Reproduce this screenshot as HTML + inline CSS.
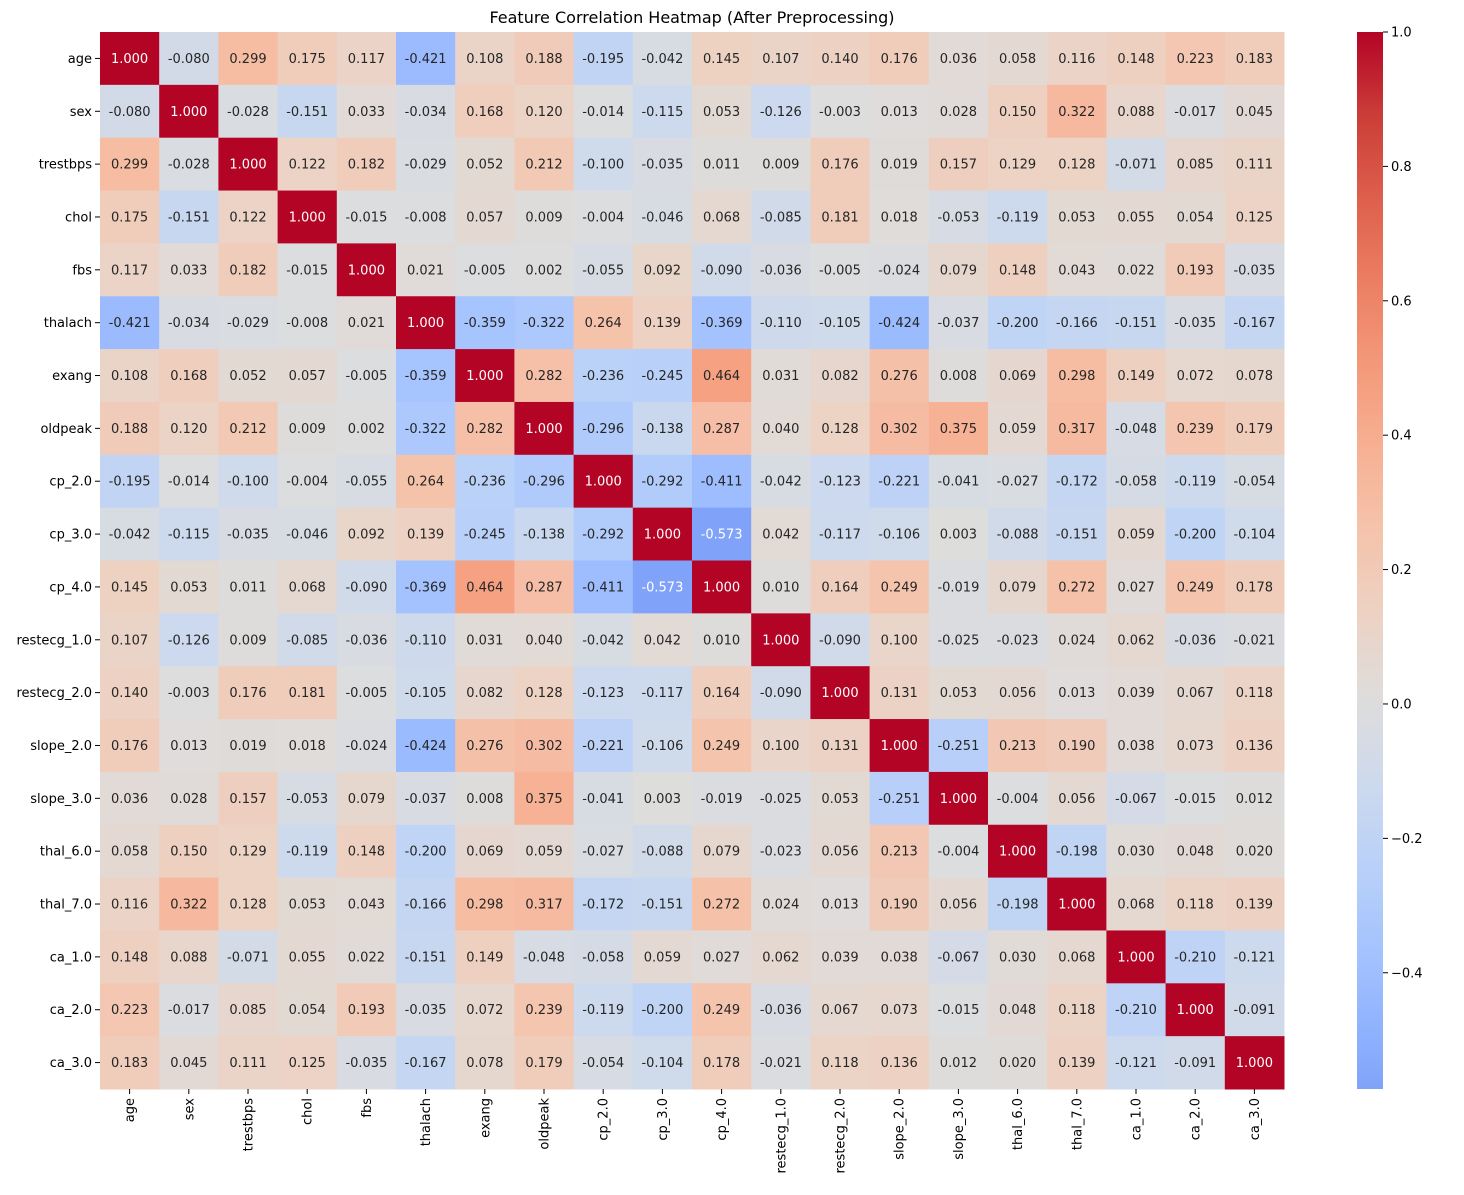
<!DOCTYPE html>
<html><head><meta charset="utf-8"><style>
body{margin:0;background:#fff;}
svg text{font-family:"DejaVu Sans","Liberation Sans",sans-serif;}
</style></head><body>
<svg id="chart" width="1464" height="1190" xmlns="http://www.w3.org/2000/svg">
<text x="692" y="23" text-anchor="middle" font-size="16">Feature Correlation Heatmap (After Preprocessing)</text>
<g id="cells"></g><g id="labels"></g><g id="cbar"></g>
</svg>
<script>
const features = ["age","sex","trestbps","chol","fbs","thalach","exang","oldpeak","cp_2.0","cp_3.0","cp_4.0","restecg_1.0","restecg_2.0","slope_2.0","slope_3.0","thal_6.0","thal_7.0","ca_1.0","ca_2.0","ca_3.0"];
const corr = [
[1.000,-0.080,0.299,0.175,0.117,-0.421,0.108,0.188,-0.195,-0.042,0.145,0.107,0.140,0.176,0.036,0.058,0.116,0.148,0.223,0.183],
[-0.080,1.000,-0.028,-0.151,0.033,-0.034,0.168,0.120,-0.014,-0.115,0.053,-0.126,-0.003,0.013,0.028,0.150,0.322,0.088,-0.017,0.045],
[0.299,-0.028,1.000,0.122,0.182,-0.029,0.052,0.212,-0.100,-0.035,0.011,0.009,0.176,0.019,0.157,0.129,0.128,-0.071,0.085,0.111],
[0.175,-0.151,0.122,1.000,-0.015,-0.008,0.057,0.009,-0.004,-0.046,0.068,-0.085,0.181,0.018,-0.053,-0.119,0.053,0.055,0.054,0.125],
[0.117,0.033,0.182,-0.015,1.000,0.021,-0.005,0.002,-0.055,0.092,-0.090,-0.036,-0.005,-0.024,0.079,0.148,0.043,0.022,0.193,-0.035],
[-0.421,-0.034,-0.029,-0.008,0.021,1.000,-0.359,-0.322,0.264,0.139,-0.369,-0.110,-0.105,-0.424,-0.037,-0.200,-0.166,-0.151,-0.035,-0.167],
[0.108,0.168,0.052,0.057,-0.005,-0.359,1.000,0.282,-0.236,-0.245,0.464,0.031,0.082,0.276,0.008,0.069,0.298,0.149,0.072,0.078],
[0.188,0.120,0.212,0.009,0.002,-0.322,0.282,1.000,-0.296,-0.138,0.287,0.040,0.128,0.302,0.375,0.059,0.317,-0.048,0.239,0.179],
[-0.195,-0.014,-0.100,-0.004,-0.055,0.264,-0.236,-0.296,1.000,-0.292,-0.411,-0.042,-0.123,-0.221,-0.041,-0.027,-0.172,-0.058,-0.119,-0.054],
[-0.042,-0.115,-0.035,-0.046,0.092,0.139,-0.245,-0.138,-0.292,1.000,-0.573,0.042,-0.117,-0.106,0.003,-0.088,-0.151,0.059,-0.200,-0.104],
[0.145,0.053,0.011,0.068,-0.090,-0.369,0.464,0.287,-0.411,-0.573,1.000,0.010,0.164,0.249,-0.019,0.079,0.272,0.027,0.249,0.178],
[0.107,-0.126,0.009,-0.085,-0.036,-0.110,0.031,0.040,-0.042,0.042,0.010,1.000,-0.090,0.100,-0.025,-0.023,0.024,0.062,-0.036,-0.021],
[0.140,-0.003,0.176,0.181,-0.005,-0.105,0.082,0.128,-0.123,-0.117,0.164,-0.090,1.000,0.131,0.053,0.056,0.013,0.039,0.067,0.118],
[0.176,0.013,0.019,0.018,-0.024,-0.424,0.276,0.302,-0.221,-0.106,0.249,0.100,0.131,1.000,-0.251,0.213,0.190,0.038,0.073,0.136],
[0.036,0.028,0.157,-0.053,0.079,-0.037,0.008,0.375,-0.041,0.003,-0.019,-0.025,0.053,-0.251,1.000,-0.004,0.056,-0.067,-0.015,0.012],
[0.058,0.150,0.129,-0.119,0.148,-0.200,0.069,0.059,-0.027,-0.088,0.079,-0.023,0.056,0.213,-0.004,1.000,-0.198,0.030,0.048,0.020],
[0.116,0.322,0.128,0.053,0.043,-0.166,0.298,0.317,-0.172,-0.151,0.272,0.024,0.013,0.190,0.056,-0.198,1.000,0.068,0.118,0.139],
[0.148,0.088,-0.071,0.055,0.022,-0.151,0.149,-0.048,-0.058,0.059,0.027,0.062,0.039,0.038,-0.067,0.030,0.068,1.000,-0.210,-0.121],
[0.223,-0.017,0.085,0.054,0.193,-0.035,0.072,0.239,-0.119,-0.200,0.249,-0.036,0.067,0.073,-0.015,0.048,0.118,-0.210,1.000,-0.091],
[0.183,0.045,0.111,0.125,-0.035,-0.167,0.078,0.179,-0.054,-0.104,0.178,-0.021,0.118,0.136,0.012,0.020,0.139,-0.121,-0.091,1.000]
];
const cbarTicks = [1.0,0.8,0.6,0.4,0.2,0.0,-0.2,-0.4];

const NS="http://www.w3.org/2000/svg";
const L=100,R=1284,T=32,B=1089;
const n=features.length, cw=(R-L)/n, ch=(B-T)/n;
let vmin=Infinity,vmax=-Infinity;
corr.forEach(r=>r.forEach(v=>{vmin=Math.min(vmin,v);vmax=Math.max(vmax,v);}));
const vr=Math.max(vmax,-vmin);
const stops=[[59,76,192],[77,104,215],[98,130,234],[119,154,246],[141,176,254],[163,194,254],[184,208,249],[204,217,238],[221,221,221],[236,211,197],[245,196,173],[247,177,148],[244,154,123],[236,127,99],[222,96,77],[203,62,56],[180,4,38]];
function cmap(t){t=Math.max(0,Math.min(1,t));const m=stops.length-1,p=t*m,i=Math.min(m-1,Math.floor(p)),f=p-i;
 return stops[i].map((c,k)=>Math.round(c+(stops[i+1][k]-c)*f));}
function colorOf(v){return cmap(0.5+v/(2*vr));}
function lum(c){const a=c.map(x=>{x/=255;return x<=0.03928?x/12.92:Math.pow((x+0.055)/1.055,2.4);});return 0.2126*a[0]+0.7152*a[1]+0.0722*a[2];}
function mk(tag,attrs,parent,txt){const e=document.createElementNS(NS,tag);for(const k in attrs)e.setAttribute(k,attrs[k]);if(txt!==undefined)e.textContent=txt;parent.appendChild(e);return e;}
const xs=i=>L+i*cw, ys=j=>T+j*ch;
const gc=document.getElementById('cells'), gl=document.getElementById('labels'), gb=document.getElementById('cbar');
for(let j=0;j<n;j++)for(let i=0;i<n;i++){
 const v=corr[j][i], c=colorOf(v);
 const r=mk('rect',{x:xs(i),y:ys(j),width:cw+0.5,height:ch+0.5,fill:`rgb(${c})`},gc);
 
 
 const t=mk('text',{x:xs(i)+cw/2,y:ys(j)+ch/2+4.5,'text-anchor':'middle','font-size':13,fill:lum(c)<0.408?'#fff':'#262626'},gc,v.toFixed(3));
 
 
}
features.forEach((f,j)=>{
 const y=ys(j)+ch/2;
 mk('line',{x1:L-5,x2:L,y1:y,y2:y,stroke:'#000'},gl);
 const t=mk('text',{x:L-8,y:y+4.5,'text-anchor':'end','font-size':13},gl,f);
 
 
 const x=xs(j)+cw/2;
 mk('line',{x1:x,x2:x,y1:B,y2:B+5,stroke:'#000'},gl);
 const u=mk('text',{x:x+4.5,y:B+9,'text-anchor':'end','font-size':13,transform:`rotate(-90 ${x+4.5} ${B+9})`},gl,f);
 
 
});
const CX=1357,CW=26;
const cy=v=>B-(v-vmin)/(vmax-vmin)*(B-T);
const defs=mk('defs',{},gb);
const grad=mk('linearGradient',{id:'cg',x1:0,y1:1,x2:0,y2:0},defs);
for(let k=0;k<=40;k++){const v=vmin+(vmax-vmin)*k/40;mk('stop',{offset:k/40,'stop-color':`rgb(${colorOf(v)})`},grad);}
const cb=mk('rect',{x:CX,y:T,width:CW,height:B-T,fill:'url(#cg)'},gb);


cbarTicks.forEach(v=>{
 const y=cy(v);
 mk('line',{x1:CX+CW,x2:CX+CW+5,y1:y,y2:y,stroke:'#000'},gb);
 const t=mk('text',{x:CX+CW+8,y:y+4.5,'font-size':13},gb,(v<0?'−':'')+Math.abs(v).toFixed(1));
 
 
});
</script>
</body></html>
